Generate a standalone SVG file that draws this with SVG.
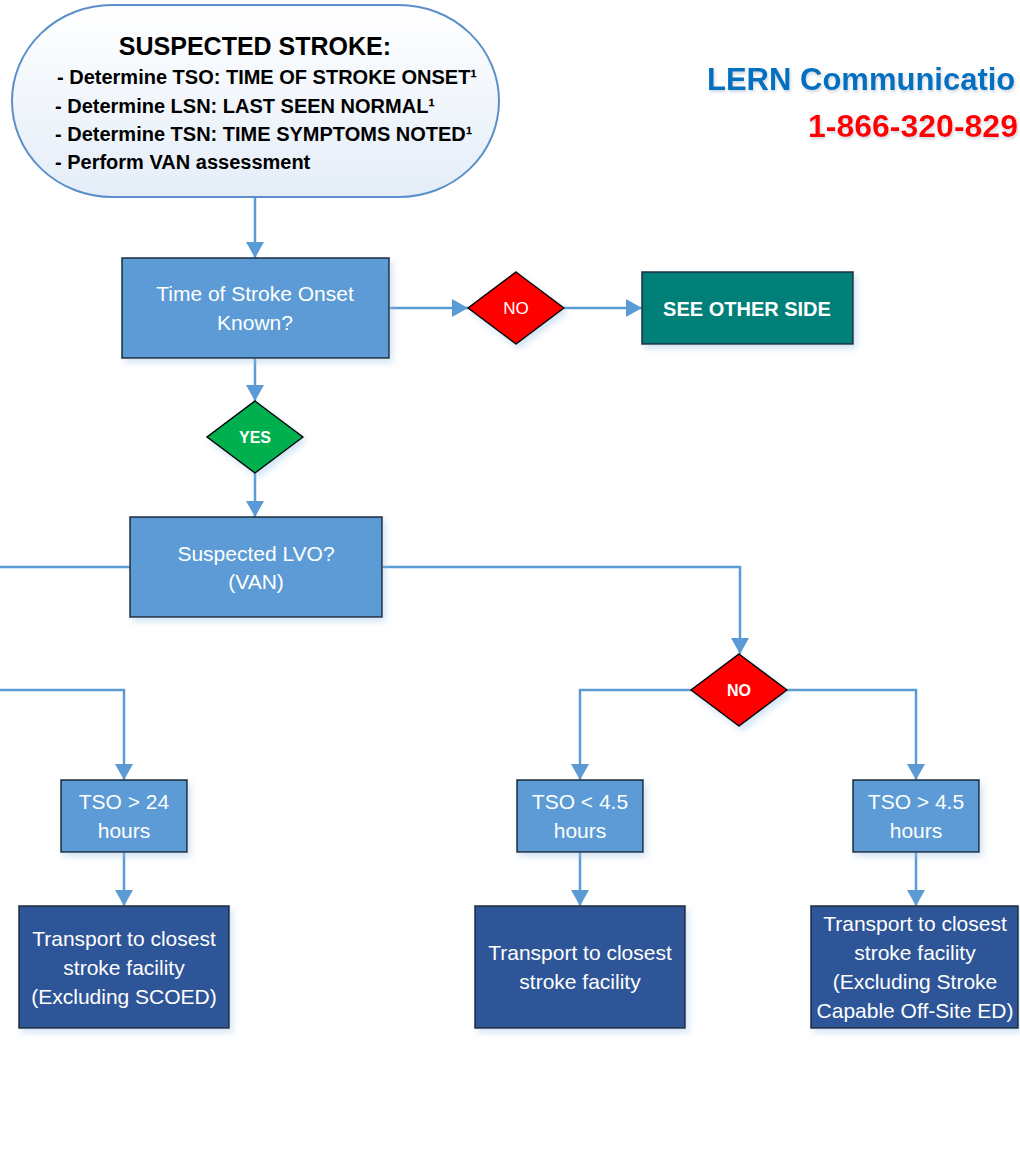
<svg xmlns="http://www.w3.org/2000/svg" width="1020" height="1151" viewBox="0 0 1020 1151">
<defs>
<style>
.t{font-family:"Liberation Sans",Arial,sans-serif;}
.bx{fill:#5b9bd5;stroke:#1e2a38;stroke-width:1.5;filter:url(#sh);}
.dk{fill:#2f5597;stroke:#1e2a38;stroke-width:1.5;filter:url(#sh);}
.wt{fill:#ffffff;font-size:21px;text-anchor:middle;}
.hd{fill:#000000;font-weight:bold;font-size:20px;}
.dm{stroke:#000000;stroke-width:1.5;filter:url(#sh);}
.cn{fill:none;stroke:#5b9bd5;stroke-width:2.5;}
.ar{marker-end:url(#ah);}
</style>
<filter id="sh" x="-10%" y="-10%" width="125%" height="130%">
<feDropShadow dx="3" dy="4" stdDeviation="3" flood-color="#9dc3e6" flood-opacity="0.45"/>
</filter>
<filter id="ts" x="-5%" y="-20%" width="110%" height="150%">
<feDropShadow dx="1" dy="2" stdDeviation="1.5" flood-color="#9aa9c0" flood-opacity="0.5"/>
</filter>
<linearGradient id="sg" x1="0" y1="0" x2="0" y2="1">
<stop offset="0" stop-color="#ffffff"/>
<stop offset="1" stop-color="#e4edf8"/>
</linearGradient>
<marker id="ah" markerUnits="userSpaceOnUse" markerWidth="17" markerHeight="18" refX="16" refY="9" orient="auto" viewBox="0 0 17 18">
<path d="M0,0 L16,9 L0,18 Z" fill="#5b9bd5"/>
</marker>
</defs>

<g id="connectors">
<path class="cn ar" d="M255,197 V258"/>
<path class="cn ar" d="M389,308 H468"/>
<path class="cn ar" d="M564,308 H642"/>
<path class="cn ar" d="M255,358 V401"/>
<path class="cn ar" d="M255,473 V517"/>
<path class="cn" d="M130,567 H0"/>
<path class="cn ar" d="M0,690 H124 V780"/>
<path class="cn ar" d="M382,567 H740 V654"/>
<path class="cn ar" d="M691,690 H580 V780"/>
<path class="cn ar" d="M787,690 H916 V780"/>
<path class="cn ar" d="M124,852 V906"/>
<path class="cn ar" d="M580,852 V906"/>
<path class="cn ar" d="M916,852 V906"/>
</g>

<g id="start">
<rect x="12" y="5" width="487" height="192" rx="100" ry="96" fill="url(#sg)" stroke="#5b8fc9" stroke-width="2"/>
<text class="t" x="255" y="55" text-anchor="middle" font-weight="bold" font-size="25">SUSPECTED STROKE:</text>
<text class="t hd" x="57" y="84">- Determine TSO: TIME OF STROKE ONSET¹</text>
<text class="t hd" x="55" y="113">- Determine LSN: LAST SEEN NORMAL¹</text>
<text class="t hd" x="55" y="141">- Determine TSN: TIME SYMPTOMS NOTED¹</text>
<text class="t hd" x="55" y="169">- Perform VAN assessment</text>
</g>

<g id="title">
<text class="t" x="707" y="90" font-weight="bold" font-size="31" fill="#0070c0" filter="url(#ts)">LERN Communicatio</text>
<text class="t" x="808" y="137" font-weight="bold" font-size="32" fill="#ff0000" filter="url(#ts)">1-866-320-829</text>
</g>

<g id="q-onset">
<rect class="bx" x="122" y="258" width="267" height="100"/>
<text class="t wt" x="255" y="301">Time of Stroke Onset</text>
<text class="t wt" x="255" y="330">Known?</text>
</g>

<g id="d-no1">
<polygon class="dm" points="516,272 564,308 516,344 468,308" fill="#ff0000"/>
<text class="t" x="516" y="314" text-anchor="middle" font-size="17" fill="#ffffff">NO</text>
</g>

<g id="other-side">
<rect x="642" y="272" width="211" height="72" fill="#038079" stroke="#1e2a38" stroke-width="1.5" filter="url(#sh)"/>
<text class="t" x="747" y="316" text-anchor="middle" font-weight="bold" font-size="20" fill="#ffffff">SEE OTHER SIDE</text>
</g>

<g id="d-yes">
<polygon class="dm" points="255,401 303,437 255,473 207,437" fill="#00b050"/>
<text class="t" x="255" y="443" text-anchor="middle" font-weight="bold" font-size="16" fill="#ffffff">YES</text>
</g>

<g id="q-lvo">
<rect class="bx" x="130" y="517" width="252" height="100"/>
<text class="t wt" x="256" y="561">Suspected LVO?</text>
<text class="t wt" x="256" y="589">(VAN)</text>
</g>

<g id="d-no2">
<polygon class="dm" points="739,654 787,690 739,726 691,690" fill="#ff0000"/>
<text class="t" x="739" y="696" text-anchor="middle" font-weight="bold" font-size="16" fill="#ffffff">NO</text>
</g>

<g id="tso24">
<rect class="bx" x="61" y="780" width="126" height="72"/>
<text class="t wt" x="124" y="809">TSO &gt; 24</text>
<text class="t wt" x="124" y="838">hours</text>
</g>

<g id="tso-lt45">
<rect class="bx" x="517" y="780" width="126" height="72"/>
<text class="t wt" x="580" y="809">TSO &lt; 4.5</text>
<text class="t wt" x="580" y="838">hours</text>
</g>

<g id="tso-gt45">
<rect class="bx" x="853" y="780" width="126" height="72"/>
<text class="t wt" x="916" y="809">TSO &gt; 4.5</text>
<text class="t wt" x="916" y="838">hours</text>
</g>

<g id="transport1">
<rect class="dk" x="19" y="906" width="210" height="122"/>
<text class="t wt" x="124" y="946">Transport to closest</text>
<text class="t wt" x="124" y="975">stroke facility</text>
<text class="t wt" x="124" y="1004">(Excluding SCOED)</text>
</g>

<g id="transport2">
<rect class="dk" x="475" y="906" width="210" height="122"/>
<text class="t wt" x="580" y="960">Transport to closest</text>
<text class="t wt" x="580" y="989">stroke facility</text>
</g>

<g id="transport3">
<rect class="dk" x="811" y="906" width="207" height="122"/>
<text class="t wt" x="915" y="931">Transport to closest</text>
<text class="t wt" x="915" y="960">stroke facility</text>
<text class="t wt" x="915" y="989">(Excluding Stroke</text>
<text class="t wt" x="915" y="1018">Capable Off-Site ED)</text>
</g>
</svg>
